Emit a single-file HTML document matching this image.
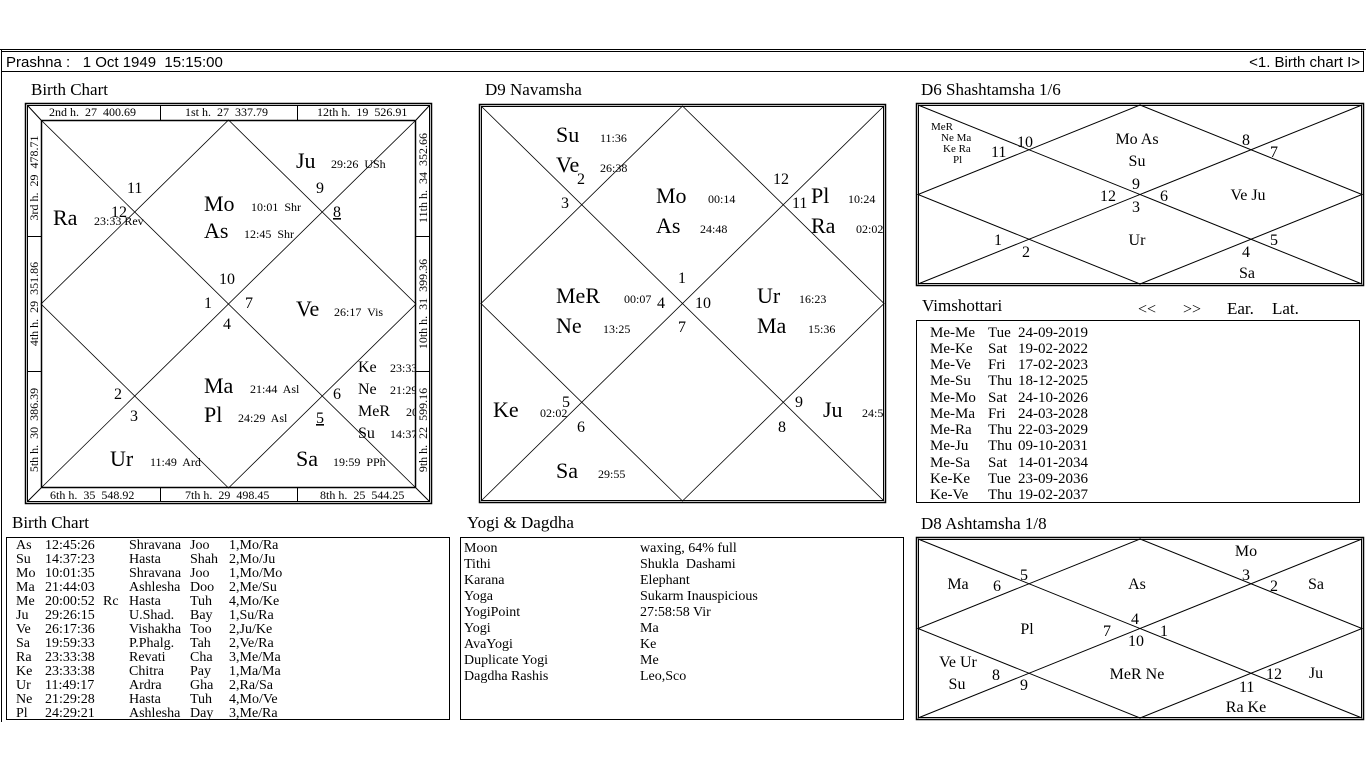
<!DOCTYPE html>
<html><head><meta charset="utf-8"><style>
html,body{margin:0;padding:0;background:#fff;width:1366px;height:768px;overflow:hidden}
svg{display:block}
text{font-family:"Liberation Serif",serif;fill:#000;white-space:pre}
.s{font-family:"Liberation Sans",sans-serif}
.b{font-size:22px}.m{font-size:12px}.n{font-size:16px}.h{font-size:12px}.t{font-size:17px}
.c{text-anchor:middle}
line,rect,polygon{stroke:#000;fill:none}
</style></head><body>
<svg width="1366" height="768" viewBox="0 0 1366 768" xml:space="preserve">
<defs>
<clipPath id="c1"><rect x="41" y="120" width="375" height="368"/></clipPath>
<clipPath id="c9"><rect x="481" y="106" width="403" height="395"/></clipPath>
</defs>
<line x1="0" y1="49.5" x2="1366" y2="49.5" stroke="#aaa"/>
<line x1="1.5" y1="49" x2="1.5" y2="722" stroke="#aaa"/>
<rect x="1.5" y="51.5" width="1362" height="20"/>
<text class="s" x="6" y="67" font-size="15">Prashna :   1 Oct 1949  15:15:00</text>
<text class="s" x="1360" y="67" font-size="15" text-anchor="end">&lt;1. Birth chart I&gt;</text>

<!-- Birth chart -->
<text class="t" x="31" y="95">Birth Chart</text>
<rect x="25.5" y="103.5" width="406" height="400" stroke-width="1.5"/>
<rect x="27.5" y="105.5" width="402" height="396"/>
<rect x="41.5" y="120.5" width="374" height="367" stroke-width="1.5"/>
<line x1="28" y1="106" x2="41" y2="120"/><line x1="429" y1="106" x2="416" y2="120"/>
<line x1="28" y1="501" x2="41" y2="488"/><line x1="429" y1="501" x2="416" y2="488"/>
<line x1="160.5" y1="105" x2="160.5" y2="120"/><line x1="297.5" y1="105" x2="297.5" y2="120"/>
<line x1="160.5" y1="488" x2="160.5" y2="502"/><line x1="297.5" y1="488" x2="297.5" y2="502"/>
<line x1="27" y1="236.5" x2="41" y2="236.5"/><line x1="27" y1="371.5" x2="41" y2="371.5"/>
<line x1="416" y1="236.5" x2="430" y2="236.5"/><line x1="416" y1="371.5" x2="430" y2="371.5"/>
<g stroke-width="0.8">
<line x1="41" y1="120" x2="416" y2="488"/><line x1="416" y1="120" x2="41" y2="488"/>
<polygon points="228.5,120 416,304 228.5,488 41,304"/>
</g>
<g class="h">
<text x="49" y="116">2nd h.  27  400.69</text>
<text x="185" y="116">1st h.  27  337.79</text>
<text x="317" y="116">12th h.  19  526.91</text>
<text x="50" y="499">6th h.  35  548.92</text>
<text x="185" y="499">7th h.  29  498.45</text>
<text x="320" y="499">8th h.  25  544.25</text>
<text class="c" transform="translate(38,178) rotate(-90)">3rd h.  29  478.71</text>
<text class="c" transform="translate(38,304) rotate(-90)">4th h.  29  351.86</text>
<text class="c" transform="translate(38,430) rotate(-90)">5th h.  30  386.39</text>
<text class="c" transform="translate(427,178) rotate(-90)">11th h.  34  352.66</text>
<text class="c" transform="translate(427,304) rotate(-90)">10th h.  31  399.36</text>
<text class="c" transform="translate(427,430) rotate(-90)">9th h.  22  599.16</text>
</g>
<g clip-path="url(#c1)">
<text class="b" x="53" y="225">Ra</text><text class="m" x="94" y="225">23:33 Rev</text>
<text class="n" x="127" y="193">11</text><text class="n" x="111" y="217">12</text>
<text class="b" x="204" y="211">Mo</text><text class="m" x="251" y="211">10:01  Shr</text>
<text class="b" x="204" y="238">As</text><text class="m" x="244" y="238">12:45  Shr</text>
<text class="b" x="296" y="168">Ju</text><text class="m" x="331" y="168">29:26  USh</text>
<text class="n" x="316" y="193">9</text><text class="n" x="333" y="217" text-decoration="underline">8</text>
<text class="n" x="219" y="284">10</text><text class="n" x="204" y="308">1</text>
<text class="n" x="245" y="308">7</text><text class="n" x="223" y="329">4</text>
<text class="b" x="296" y="316">Ve</text><text class="m" x="334" y="316">26:17  Vis</text>
<text class="n" x="358" y="372" font-size="17">Ke</text><text class="m" x="390" y="372">23:33</text>
<text class="n" x="358" y="394" font-size="17">Ne</text><text class="m" x="390" y="394">21:29</text>
<text class="n" x="358" y="416" font-size="17">MeR</text><text class="m" x="406" y="416">20</text>
<text class="n" x="358" y="438" font-size="17">Su</text><text class="m" x="390" y="438">14:37</text>
<text class="n" x="333" y="399">6</text><text class="n" x="316" y="423" text-decoration="underline">5</text>
<text class="b" x="204" y="393">Ma</text><text class="m" x="250" y="393">21:44  Asl</text>
<text class="b" x="204" y="422">Pl</text><text class="m" x="238" y="422">24:29  Asl</text>
<text class="n" x="114" y="399">2</text><text class="n" x="130" y="421">3</text>
<text class="b" x="110" y="466">Ur</text><text class="m" x="150" y="466">11:49  Ard</text>
<text class="b" x="296" y="466">Sa</text><text class="m" x="333" y="466">19:59  PPh</text>
</g>

<!-- D9 -->
<text class="t" x="485" y="95">D9 Navamsha</text>
<rect x="479.5" y="104.5" width="406" height="398" stroke-width="1.5"/>
<rect x="481.5" y="106.5" width="402" height="394"/>
<g stroke-width="0.8">
<line x1="481" y1="106" x2="884" y2="501"/><line x1="884" y1="106" x2="481" y2="501"/>
<polygon points="682.5,106 884,303.5 682.5,501 481,303.5"/>
</g>
<g clip-path="url(#c9)">
<text class="b" x="556" y="142">Su</text><text class="m" x="600" y="142">11:36</text>
<text class="b" x="556" y="172">Ve</text><text class="m" x="600" y="172">26:38</text>
<text class="n" x="577" y="184">2</text><text class="n" x="561" y="208">3</text>
<text class="b" x="656" y="203">Mo</text><text class="m" x="708" y="203">00:14</text>
<text class="b" x="656" y="233">As</text><text class="m" x="700" y="233">24:48</text>
<text class="n" x="773" y="184">12</text><text class="n" x="792" y="208">11</text>
<text class="b" x="811" y="203">Pl</text><text class="m" x="848" y="203">10:24</text>
<text class="b" x="811" y="233">Ra</text><text class="m" x="856" y="233">02:02</text>
<text class="b" x="556" y="303">MeR</text><text class="m" x="624" y="303">00:07</text>
<text class="n" x="657" y="308">4</text>
<text class="b" x="556" y="333">Ne</text><text class="m" x="603" y="333">13:25</text>
<text class="n" x="678" y="283">1</text><text class="n" x="695" y="308">10</text><text class="n" x="678" y="332">7</text>
<text class="b" x="757" y="303">Ur</text><text class="m" x="799" y="303">16:23</text>
<text class="b" x="757" y="333">Ma</text><text class="m" x="808" y="333">15:36</text>
<text class="b" x="493" y="417">Ke</text><text class="m" x="540" y="417">02:02</text>
<text class="n" x="562" y="407">5</text><text class="n" x="577" y="432">6</text>
<text class="n" x="795" y="407">9</text><text class="n" x="778" y="432">8</text>
<text class="b" x="823" y="417">Ju</text><text class="m" x="862" y="417">24:5</text>
<text class="b" x="556" y="478">Sa</text><text class="m" x="598" y="478">29:55</text>
</g>

<!-- D6 -->
<text class="t" x="921" y="95">D6 Shashtamsha 1/6</text>
<rect x="916.5" y="103.5" width="447" height="182" stroke-width="1.5"/>
<rect x="918.5" y="105.5" width="443" height="178"/>
<line x1="918" y1="105" x2="1362" y2="284"/><line x1="1362" y1="105" x2="918" y2="284"/>
<polygon points="1140,105 1362,194.5 1140,284 918,194.5"/>
<g font-size="11"><text x="931" y="130">MeR</text><text x="941" y="141">Ne Ma</text><text x="943" y="152">Ke Ra</text><text x="953" y="163">Pl</text></g>
<g class="n">
<text x="1017" y="147">10</text><text x="991" y="157">11</text>
<text class="c" x="1137" y="144">Mo As</text><text class="c" x="1137" y="166">Su</text>
<text x="1242" y="145">8</text><text x="1270" y="157">7</text>
<text x="1132" y="189">9</text><text x="1100" y="201">12</text><text x="1160" y="201">6</text><text x="1132" y="212">3</text>
<text class="c" x="1248" y="200">Ve Ju</text>
<text x="994" y="245">1</text><text x="1022" y="257">2</text>
<text class="c" x="1137" y="245">Ur</text>
<text x="1270" y="245">5</text><text x="1242" y="257">4</text>
<text class="c" x="1247" y="278">Sa</text>
</g>

<!-- Vimshottari -->
<text class="t" x="922" y="311">Vimshottari</text>
<g class="n"><text x="1138" y="314">&lt;&lt;</text><text x="1183" y="314">&gt;&gt;</text><text x="1227" y="314" font-size="17">Ear.</text><text x="1272" y="314" font-size="17">Lat.</text></g>
<rect x="916.5" y="320.5" width="443" height="182"/>
<g font-size="15">
<text x="930" y="337">Me-Me</text><text x="988" y="337">Tue</text><text x="1018" y="337">24-09-2019</text>
<text x="930" y="353">Me-Ke</text><text x="988" y="353">Sat</text><text x="1018" y="353">19-02-2022</text>
<text x="930" y="369">Me-Ve</text><text x="988" y="369">Fri</text><text x="1018" y="369">17-02-2023</text>
<text x="930" y="385">Me-Su</text><text x="988" y="385">Thu</text><text x="1018" y="385">18-12-2025</text>
<text x="930" y="402">Me-Mo</text><text x="988" y="402">Sat</text><text x="1018" y="402">24-10-2026</text>
<text x="930" y="418">Me-Ma</text><text x="988" y="418">Fri</text><text x="1018" y="418">24-03-2028</text>
<text x="930" y="434">Me-Ra</text><text x="988" y="434">Thu</text><text x="1018" y="434">22-03-2029</text>
<text x="930" y="450">Me-Ju</text><text x="988" y="450">Thu</text><text x="1018" y="450">09-10-2031</text>
<text x="930" y="467">Me-Sa</text><text x="988" y="467">Sat</text><text x="1018" y="467">14-01-2034</text>
<text x="930" y="483">Ke-Ke</text><text x="988" y="483">Tue</text><text x="1018" y="483">23-09-2036</text>
<text x="930" y="499">Ke-Ve</text><text x="988" y="499">Thu</text><text x="1018" y="499">19-02-2037</text>
</g>

<!-- Birth chart table -->
<text class="t" x="12" y="528">Birth Chart</text>
<rect x="6.5" y="537.5" width="443" height="182"/>
<g font-size="14">
<g><text x="16" y="549">As</text><text x="45" y="549">12:45:26</text><text x="129" y="549">Shravana</text><text x="190" y="549">Joo</text><text x="229" y="549">1,Mo/Ra</text></g>
<g><text x="16" y="563">Su</text><text x="45" y="563">14:37:23</text><text x="129" y="563">Hasta</text><text x="190" y="563">Shah</text><text x="229" y="563">2,Mo/Ju</text></g>
<g><text x="16" y="577">Mo</text><text x="45" y="577">10:01:35</text><text x="129" y="577">Shravana</text><text x="190" y="577">Joo</text><text x="229" y="577">1,Mo/Mo</text></g>
<g><text x="16" y="591">Ma</text><text x="45" y="591">21:44:03</text><text x="129" y="591">Ashlesha</text><text x="190" y="591">Doo</text><text x="229" y="591">2,Me/Su</text></g>
<g><text x="16" y="605">Me</text><text x="45" y="605">20:00:52</text><text x="103" y="605">Rc</text><text x="129" y="605">Hasta</text><text x="190" y="605">Tuh</text><text x="229" y="605">4,Mo/Ke</text></g>
<g><text x="16" y="619">Ju</text><text x="45" y="619">29:26:15</text><text x="129" y="619">U.Shad.</text><text x="190" y="619">Bay</text><text x="229" y="619">1,Su/Ra</text></g>
<g><text x="16" y="633">Ve</text><text x="45" y="633">26:17:36</text><text x="129" y="633">Vishakha</text><text x="190" y="633">Too</text><text x="229" y="633">2,Ju/Ke</text></g>
<g><text x="16" y="647">Sa</text><text x="45" y="647">19:59:33</text><text x="129" y="647">P.Phalg.</text><text x="190" y="647">Tah</text><text x="229" y="647">2,Ve/Ra</text></g>
<g><text x="16" y="661">Ra</text><text x="45" y="661">23:33:38</text><text x="129" y="661">Revati</text><text x="190" y="661">Cha</text><text x="229" y="661">3,Me/Ma</text></g>
<g><text x="16" y="675">Ke</text><text x="45" y="675">23:33:38</text><text x="129" y="675">Chitra</text><text x="190" y="675">Pay</text><text x="229" y="675">1,Ma/Ma</text></g>
<g><text x="16" y="689">Ur</text><text x="45" y="689">11:49:17</text><text x="129" y="689">Ardra</text><text x="190" y="689">Gha</text><text x="229" y="689">2,Ra/Sa</text></g>
<g><text x="16" y="703">Ne</text><text x="45" y="703">21:29:28</text><text x="129" y="703">Hasta</text><text x="190" y="703">Tuh</text><text x="229" y="703">4,Mo/Ve</text></g>
<g><text x="16" y="717">Pl</text><text x="45" y="717">24:29:21</text><text x="129" y="717">Ashlesha</text><text x="190" y="717">Day</text><text x="229" y="717">3,Me/Ra</text></g>
</g>

<!-- Yogi -->
<text class="t" x="467" y="528">Yogi &amp; Dagdha</text>
<rect x="460.5" y="537.5" width="443" height="182"/>
<g font-size="14">
<text x="464" y="552">Moon</text><text x="640" y="552">waxing, 64% full</text>
<text x="464" y="568">Tithi</text><text x="640" y="568">Shukla  Dashami</text>
<text x="464" y="584">Karana</text><text x="640" y="584">Elephant</text>
<text x="464" y="600">Yoga</text><text x="640" y="600">Sukarm Inauspicious</text>
<text x="464" y="616">YogiPoint</text><text x="640" y="616">27:58:58 Vir</text>
<text x="464" y="632">Yogi</text><text x="640" y="632">Ma</text>
<text x="464" y="648">AvaYogi</text><text x="640" y="648">Ke</text>
<text x="464" y="664">Duplicate Yogi</text><text x="640" y="664">Me</text>
<text x="464" y="680">Dagdha Rashis</text><text x="640" y="680">Leo,Sco</text>
</g>

<!-- D8 -->
<text class="t" x="921" y="529">D8 Ashtamsha 1/8</text>
<rect x="916.5" y="537.5" width="447" height="182" stroke-width="1.5"/>
<rect x="918.5" y="539.5" width="443" height="178"/>
<line x1="918" y1="539" x2="1362" y2="718"/><line x1="1362" y1="539" x2="918" y2="718"/>
<polygon points="1140,539 1362,628.5 1140,718 918,628.5"/>
<g class="n">
<text class="c" x="1246" y="556">Mo</text>
<text class="c" x="958" y="589">Ma</text><text x="1020" y="580">5</text><text x="993" y="591">6</text>
<text class="c" x="1137" y="589">As</text><text x="1242" y="580">3</text><text x="1270" y="591">2</text><text class="c" x="1316" y="589">Sa</text>
<text class="c" x="1027" y="634">Pl</text><text x="1131" y="624">4</text><text x="1103" y="636">7</text><text x="1160" y="636">1</text><text class="c" x="1136" y="646">10</text>
<text class="c" x="958" y="667">Ve Ur</text><text class="c" x="957" y="689">Su</text><text x="992" y="680">8</text><text x="1020" y="690">9</text>
<text class="c" x="1137" y="679">MeR Ne</text><text x="1266" y="679">12</text><text class="c" x="1316" y="678">Ju</text>
<text x="1239" y="692">11</text><text class="c" x="1246" y="712">Ra Ke</text>
</g>
</svg>
</body></html>
